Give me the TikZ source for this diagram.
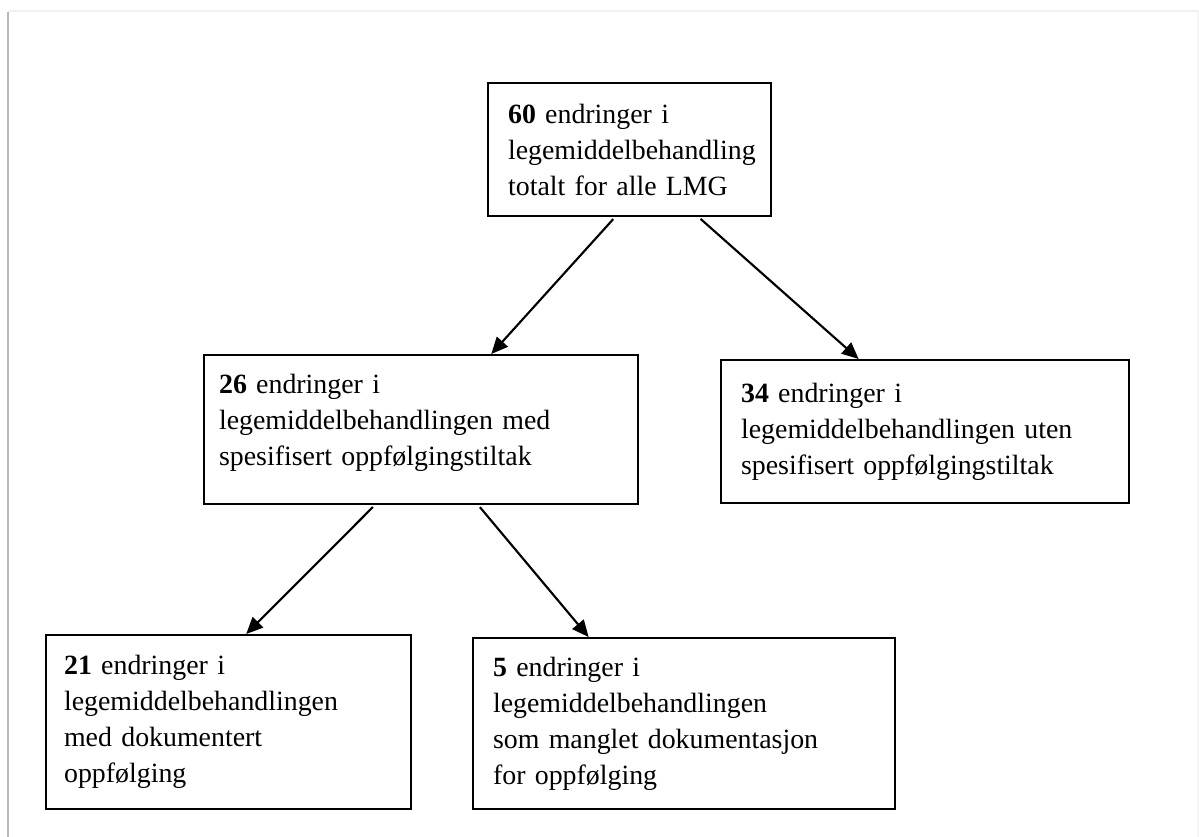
\documentclass[tikz,border=0pt]{standalone}
\usepackage{fontspec}
\setmainfont{Liberation Serif}
\usetikzlibrary{arrows.meta,calc}
\begin{document}
\begin{tikzpicture}[x=0.75pt,y=-0.75pt,
  box/.style={draw=black, line width=1.6pt, rectangle, anchor=north west,
    align=left, inner ysep=2pt, font=\fontsize{20.9pt}{27pt}\selectfont},
  arr/.style={line width=1.6pt, -{Triangle[length=12.5pt,width=11pt]}, shorten <=2pt}]
\useasboundingbox (0,0) rectangle (1199,837);
\fill[white] (0,0) rectangle (1199,837);
\draw[gray!12, line width=1.5pt] (8,11) -- (1199,11);
\draw[gray!55, line width=2.2pt] (8,12) -- (8,837);
\draw[gray!8, line width=0.8pt] (1198,12) -- (1198,837);

\node[box, minimum width=212.25pt, minimum height=99.75pt, text width=182.25pt, inner xsep=15pt] (top) at (487,82)
  {\textbf{60} endringer i\\legemiddelbehandling\\totalt for alle LMG};
\node[box, minimum width=325.5pt, minimum height=111.75pt, text width=303pt, inner xsep=11.25pt] (ml) at (203,354)
  {\textbf{26} endringer i\\\mbox{legemiddelbehandlingen med}\\\mbox{spesifisert oppfølgingstiltak}\\[-12pt]\mbox{}};
\node[box, minimum width=306pt, minimum height=107.25pt, text width=276pt, inner xsep=15pt] (mr) at (720,359)
  {\textbf{34} endringer i\\\mbox{legemiddelbehandlingen uten}\\\mbox{spesifisert oppfølgingstiltak}};
\node[box, minimum width=273.75pt, minimum height=130.5pt, text width=246.75pt, inner xsep=13.5pt] (bl) at (45,634)
  {\textbf{21} endringer i\\\mbox{legemiddelbehandlingen}\\med dokumentert\\oppfølging};
\node[box, minimum width=316.5pt, minimum height=128.25pt, text width=286.5pt, inner xsep=15pt] (br) at (472,637)
  {\textbf{5} endringer i\\\mbox{legemiddelbehandlingen}\\\mbox{som manglet dokumentasjon}\\for oppfølging};

\draw[arr] ($(top.south west)!0.449!(top.south east)$) -- ($(ml.north west)!0.661!(ml.north east)$);
\draw[arr] ($(top.south west)!0.742!(top.south east)$) -- ($(mr.north west)!0.338!(mr.north east)$);
\draw[arr] ($(ml.south west)!0.394!(ml.south east)$) -- ($(bl.north west)!0.548!(bl.north east)$);
\draw[arr] ($(ml.south west)!0.631!(ml.south east)$) -- ($(br.north west)!0.275!(br.north east)$);
\end{tikzpicture}
\end{document}
